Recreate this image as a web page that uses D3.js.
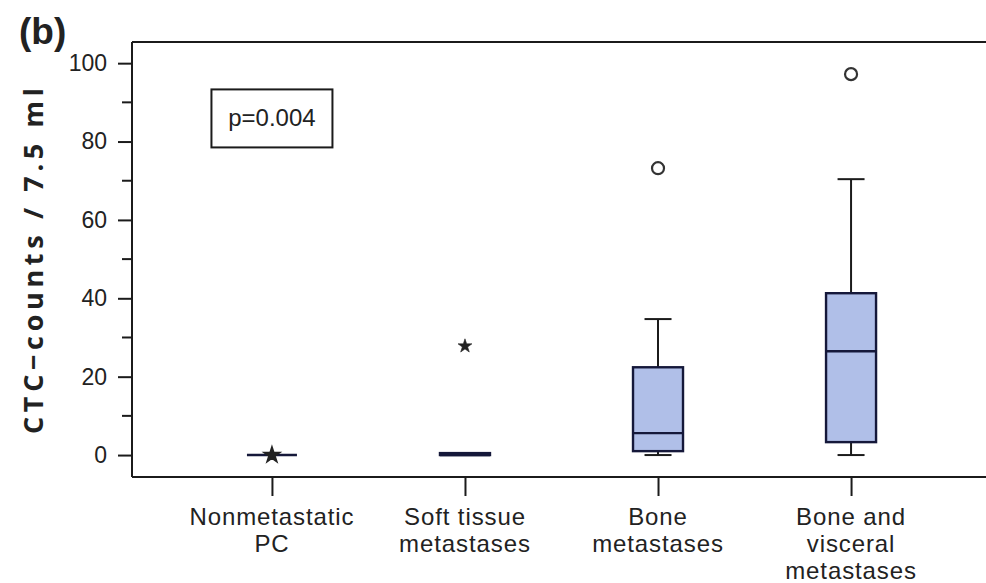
<!DOCTYPE html>
<html>
<head>
<meta charset="utf-8">
<script src="https://cdn.jsdelivr.net/npm/d3@7"></script>
<style>
  html, body { margin: 0; padding: 0; background: #fff; }
  svg { display: block; }
  text { font-family: "Liberation Sans", Arial, sans-serif; fill: #222; }
</style>
</head>
<body>
<svg id="chart" width="986" height="583"></svg>
<script>
// Group labels (one entry per line)
const categories = [
  ["Nonmetastatic", "PC"],
  ["Soft tissue", "metastases"],
  ["Bone", "metastases"],
  ["Bone and", "visceral", "metastases"]
];

// Box-plot summaries per group (CTC counts / 7.5 ml)
const whiskerLow  = [0, 0,   0,    0];
const q1          = [0, 0,   1.0,  3.3];
const median      = [0, 0,   5.6,  26.5];
const q3          = [0, 0.5, 22.4, 41.3];
const whiskerHigh = [0, 0.5, 34.7, 70.4];

// Outliers (circles) and extreme values (stars)
const outlierGroup = [2, 3];
const outlierValue = [73.2, 97.2];
const extremeGroup = [0, 1];
const extremeValue = [0, 27.8];

const majorTicks = [0, 20, 40, 60, 80, 100];
const minorTicks = [10, 30, 50, 70, 90];
const pText = "p=0.004";

const svg = d3.select("#chart");
const plotLeft = 132, plotTop = 42, plotBottom = 477, plotRight = 991;

const x = d3.scalePoint()
  .domain(d3.range(categories.length))
  .range([plotLeft, plotRight])
  .padding(0.725);

const y = d3.scaleLinear()
  .domain([-5.6, 105.4])
  .range([plotBottom, plotTop]);

const ink = "#1b1b1b";
const boxW = 50, capW = 27;

// Frame: top line
svg.append("line").attr("x1", plotLeft).attr("x2", plotRight).attr("y1", plotTop).attr("y2", plotTop)
  .attr("stroke", ink).attr("stroke-width", 2);

// Y axis with major labels and minor ticks
const yAxis = d3.axisLeft(y).tickValues(majorTicks).tickSize(14).tickPadding(11);
const gy = svg.append("g").attr("transform", `translate(${plotLeft},0)`).call(yAxis);
gy.select(".domain").attr("d", `M0,${plotTop}V${plotBottom}`).attr("stroke", ink).attr("stroke-width", 2);
gy.selectAll(".tick line").attr("stroke", ink).attr("stroke-width", 2);
gy.selectAll(".tick text").style("font-size", "23px").style("font-family", "Liberation Sans, Arial, sans-serif")
  .attr("fill", "#333");
svg.append("g").selectAll("line").data(minorTicks).join("line")
  .attr("x1", plotLeft - 10).attr("x2", plotLeft)
  .attr("y1", d => y(d)).attr("y2", d => y(d))
  .attr("stroke", ink).attr("stroke-width", 2);

// X axis
const xAxis = d3.axisBottom(x).tickSize(19).tickFormat("");
const gx = svg.append("g").attr("transform", `translate(0,${plotBottom})`).call(xAxis);
gx.select(".domain").attr("d", `M${plotLeft},0H${plotRight}`).attr("stroke", ink).attr("stroke-width", 2);
gx.selectAll(".tick line").attr("stroke", ink).attr("stroke-width", 2);

// Multi-line group labels
const labels = svg.append("g").selectAll("text").data(categories).join("text")
  .attr("text-anchor", "middle")
  .style("font-size", "24px")
  .style("letter-spacing", "0.9px")
  .attr("fill", "#333")
  .attr("transform", (d, i) => `translate(${x(i)},525)`);
labels.selectAll("tspan").data(d => d).join("tspan")
  .attr("x", 0).attr("y", (d, j) => j * 27)
  .text(d => d);

// Boxes
const g = svg.append("g");
d3.range(categories.length).forEach(i => {
  const cx = x(i);
  // whiskers
  if (whiskerHigh[i] > q3[i]) {
    g.append("line").attr("x1", cx).attr("x2", cx).attr("y1", y(q3[i])).attr("y2", y(whiskerHigh[i]))
      .attr("stroke", ink).attr("stroke-width", 2);
    g.append("line").attr("x1", cx - capW / 2).attr("x2", cx + capW / 2)
      .attr("y1", y(whiskerHigh[i])).attr("y2", y(whiskerHigh[i]))
      .attr("stroke", ink).attr("stroke-width", 2);
  }
  if (whiskerLow[i] < q1[i]) {
    g.append("line").attr("x1", cx).attr("x2", cx).attr("y1", y(q1[i])).attr("y2", y(whiskerLow[i]))
      .attr("stroke", ink).attr("stroke-width", 2);
    g.append("line").attr("x1", cx - capW / 2).attr("x2", cx + capW / 2)
      .attr("y1", y(whiskerLow[i])).attr("y2", y(whiskerLow[i]))
      .attr("stroke", ink).attr("stroke-width", 2);
  }
  // box
  g.append("rect")
    .attr("x", cx - boxW / 2).attr("width", boxW)
    .attr("y", y(q3[i])).attr("height", Math.max(0, y(q1[i]) - y(q3[i])))
    .attr("fill", "#b0bfe8").attr("stroke", "#15183a").attr("stroke-width", 2.4);
  // median
  g.append("line").attr("x1", cx - boxW / 2).attr("x2", cx + boxW / 2)
    .attr("y1", y(median[i])).attr("y2", y(median[i]))
    .attr("stroke", "#15183a").attr("stroke-width", 2.4);
});

// Outlier circles
svg.append("g").selectAll("circle").data(outlierValue).join("circle")
  .attr("cx", (d, i) => x(outlierGroup[i]))
  .attr("cy", d => y(d))
  .attr("r", 6)
  .attr("fill", "#fff").attr("stroke", "#333").attr("stroke-width", 2.2);

// Extreme-value stars
const star = d3.symbol().type(d3.symbolStar).size(60);
svg.append("g").selectAll("path").data(extremeValue).join("path")
  .attr("d", star)
  .attr("transform", (d, i) => `translate(${x(extremeGroup[i])},${y(d)})`)
  .attr("fill", "#222").attr("stroke", "#222")
  .attr("stroke-width", (d, i) => i === 0 ? 2.2 : 0.6);

// Test annotation
const px = x(0);
svg.append("rect")
  .attr("x", px - 60.5).attr("width", 121)
  .attr("y", y(93.3)).attr("height", y(78.5) - y(93.3))
  .attr("fill", "#fff").attr("stroke", ink).attr("stroke-width", 2);
svg.append("text")
  .attr("x", px).attr("y", (y(93.3) + y(78.5)) / 2 + 8)
  .attr("text-anchor", "middle")
  .style("font-size", "24px")
  .attr("fill", "#333")
  .text(pText);

// Y-axis title
svg.append("text")
  .attr("transform", "translate(43,261) rotate(-90)")
  .attr("text-anchor", "middle")
  .style("font-family", "'Open Sans', 'DejaVu Sans', sans-serif")
  .style("font-weight", "bold")
  .style("font-size", "27px")
  .attr("textLength", 346)
  .attr("lengthAdjust", "spacing")
  .attr("fill", "#222")
  .text("CTC\u2212counts / 7.5 ml");

// Panel letter
svg.append("text")
  .attr("x", 19).attr("y", 44)
  .style("font-family", "'Liberation Sans', Arial, sans-serif")
  .style("font-weight", "bold")
  .style("font-size", "37px")
  .attr("fill", "#222")
  .text("(b)");
</script>
</body>
</html>
